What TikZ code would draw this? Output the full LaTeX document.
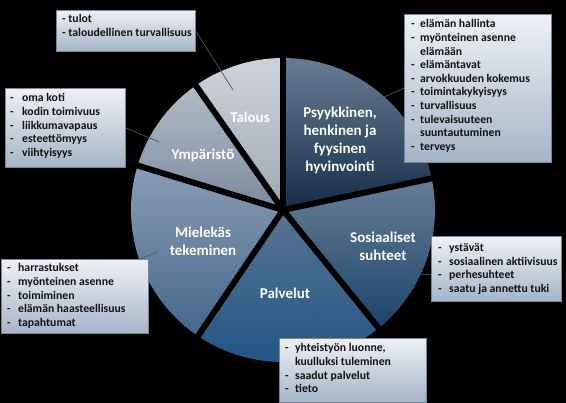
\documentclass[tikz,border=0pt]{standalone}
\usepackage{fontspec}
\setmainfont{Carlito}
\definecolor{psyT}{RGB}{105,125,145}
\definecolor{psyB}{RGB}{20,45,72}
\definecolor{talT}{RGB}{208,212,218}
\definecolor{talB}{RGB}{158,167,178}
\definecolor{ympT}{RGB}{178,188,200}
\definecolor{ympB}{RGB}{122,138,156}
\definecolor{mieT}{RGB}{138,157,180}
\definecolor{mieB}{RGB}{68,103,140}
\definecolor{palT}{RGB}{88,116,146}
\definecolor{palB}{RGB}{30,84,132}
\definecolor{sosT}{RGB}{102,126,150}
\definecolor{sosB}{RGB}{28,68,106}
\definecolor{boxT}{RGB}{238,241,245}
\definecolor{boxB}{RGB}{165,181,199}
\definecolor{boxE}{RGB}{120,135,152}
\definecolor{txtD}{RGB}{18,18,18}
\definecolor{connC}{RGB}{62,88,114}
\newcommand\dashitem[2][11pt]{\makebox[#1][l]{-}#2}
\newcommand\contitem[2][11pt]{\hspace*{#1}#2}
\begin{document}
\begin{tikzpicture}[x=1pt,y=1pt,
  plabel/.style={text=white,font=\bfseries\fontsize{15}{18}\selectfont,align=center,inner sep=0},
  cbox/.style={rectangle,draw=boxE,line width=0.6pt,top color=boxT,bottom color=boxB,inner sep=0,anchor=north west},
  btext/.style={text=txtD,font=\bfseries\fontsize{11.7}{13.6}\selectfont,align=left,inner sep=0,anchor=north west},
  conn/.style={draw=connC,line width=0.7pt},
  gap/.style={draw=black,line width=6pt}]
\useasboundingbox[fill=black] (0,0) rectangle (566,-403);
\coordinate (c) at (283,-210);
\def\R{152}
% sectors
\shade[top color=psyT,bottom color=psyB] (c) -- ++(12:\R) arc[start angle=12,end angle=90,radius=\R] -- cycle;
\shade[top color=talT,bottom color=talB] (c) -- ++(90:\R) arc[start angle=90,end angle=125,radius=\R] -- cycle;
\shade[top color=ympT,bottom color=ympB] (c) -- ++(125:\R) arc[start angle=125,end angle=163,radius=\R] -- cycle;
\shade[top color=mieT,bottom color=mieB] (c) -- ++(163:\R) arc[start angle=163,end angle=236,radius=\R] -- cycle;
\shade[top color=palT,bottom color=palB] (c) -- ++(236:\R) arc[start angle=236,end angle=309,radius=\R] -- cycle;
\shade[top color=sosT,bottom color=sosB] (c) -- ++(309:\R) arc[start angle=309,end angle=372,radius=\R] -- cycle;
\foreach \a in {12,90,125,163,236,309} \draw[gap] (c) -- ++(\a:160);
% pie labels
\node[plabel] (lpsy) at (340,-140) {Psyykkinen,\\henkinen ja\\fyysinen\\hyvinvointi};
\node[plabel] (ltal) at (250,-117) {Talous};
\node[plabel] (lymp) at (203,-155) {Ympäristö};
\node[plabel] (lmie) at (203,-241) {Mielekäs\\tekeminen};
\node[plabel] (lpal) at (285,-293) {Palvelut};
\node[plabel] (lsos) at (383,-246) {Sosiaaliset\\suhteet};
% anchor points in sectors
\coordinate (ta) at (233,-90);
\coordinate (ya) at (159,-142);
\coordinate (pa) at (377,-100);
\coordinate (ma) at (157,-252);
\coordinate (sa) at (410,-274);
\coordinate (va) at (318,-318);
% boxes
\node[cbox,minimum width=139pt,minimum height=41pt] (bt) at (56,-10) {};
\node[cbox,minimum width=120pt,minimum height=79pt] (by) at (5,-88) {};
\node[cbox,minimum width=147pt,minimum height=148pt] (bp) at (404,-14) {};
\node[cbox,minimum width=147pt,minimum height=74pt] (bm) at (1,-259) {};
\node[cbox,minimum width=130pt,minimum height=65pt] (bs) at (431,-236) {};
\node[cbox,minimum width=147pt,minimum height=64pt] (bv) at (279,-338) {};
% connectors
\draw[conn] (bt.east) -- (ta);
\draw[conn] (by.east) -- (ya);
\draw[conn] (bp.west) -- (pa);
\draw[conn] ([xshift=-8pt]bm.north east) -- (ma);
\draw[conn] ([yshift=-5.5pt]bs.west) -- (sa);
\draw[conn] (bv.north) -- (va);
% box texts
\node[btext] (tt) at (62,-14) {- tulot\\- taloudellinen turvallisuus};
\node[btext] (ty) at (10,-93.5) {\dashitem[12pt]{oma koti}\\\dashitem[12pt]{kodin toimivuus}\\\dashitem[12pt]{liikkumavapaus}\\\dashitem[12pt]{esteettömyys}\\\dashitem[12pt]{viihtyisyys}};
\node[btext] (tp) at (411,-19.5) {\dashitem[9pt]{elämän hallinta}\\\dashitem[9pt]{myönteinen asenne}\\\contitem[9pt]{elämään}\\\dashitem[9pt]{elämäntavat}\\\dashitem[9pt]{arvokkuuden kokemus}\\\dashitem[9pt]{toimintakykyisyys}\\\dashitem[9pt]{turvallisuus}\\\dashitem[9pt]{tulevaisuuteen}\\\contitem[9pt]{suuntautuminen}\\\dashitem[9pt]{terveys}};
\node[btext] (tm) at (7,-263.5) {\dashitem{harrastukset}\\\dashitem{myönteinen asenne}\\\dashitem{toimiminen}\\\dashitem{elämän haasteellisuus}\\\dashitem{tapahtumat}};
\node[btext] (ts) at (438,-243.5) {\dashitem{ystävät}\\\dashitem{sosiaalinen aktiivisuus}\\\dashitem{perhesuhteet}\\\dashitem{saatu ja annettu tuki}};
\node[btext] (tv) at (285,-343.5) {\dashitem[10pt]{yhteistyön luonne,}\\\contitem[10pt]{kuulluksi tuleminen}\\\dashitem[10pt]{saadut palvelut}\\\dashitem[10pt]{tieto}};
\end{tikzpicture}
\end{document}
